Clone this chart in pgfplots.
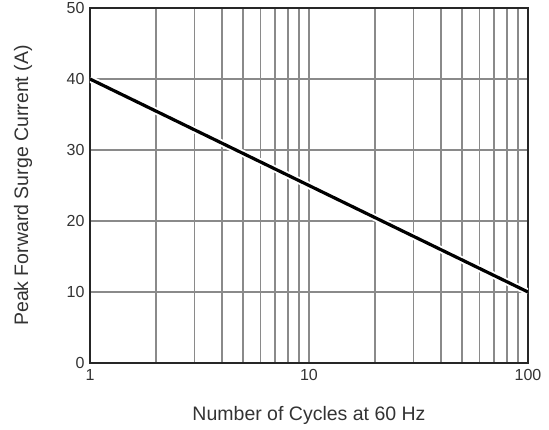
\documentclass[border=0pt]{standalone}
\usepackage{pgfplots}
\pgfplotsset{compat=1.18}
\usepackage{fontspec}
\setmainfont{Liberation Sans}
\definecolor{txt}{HTML}{333333}
\definecolor{gridc}{HTML}{8A8A8A}
\begin{document}
\begin{tikzpicture}[x=1pt,y=1pt]
\path[use as bounding box] (-90,-66) rectangle (459,363);
\begin{axis}[
  at={(0,0)}, anchor=south west,
  scale only axis, width=438pt, height=355pt,
  xmode=log, xmin=1, xmax=100, ymin=0, ymax=50,
  log basis x=10,
  xtick={1,10,100}, xticklabels={1,10,100},
  ytick={0,10,20,30,40,50},
  minor xtick={2,3,4,5,6,7,8,9,20,30,40,50,60,70,80,90},
  grid=both,
  major grid style={gridc, line width=1.5pt},
  minor grid style={gridc, line width=1.5pt},
  axis line style={line width=1.8pt, black!85},
  tick style={draw=none},
  ticklabel style={font=\fontsize{16}{16}\selectfont, text=txt},
  /pgf/number format/assume math mode=true,
  xlabel={Number of Cycles at 60 Hz},
  ylabel={Peak Forward Surge Current (A)},
  label style={font=\fontsize{19.5}{19.5}\selectfont, text=txt},
  xlabel style={at={(axis description cs:0.5,0)}, anchor=center, yshift=-52pt},
  ylabel style={at={(axis description cs:0,0.5)}, anchor=center, yshift=67pt},
  xticklabel style={yshift=-3pt},
  yticklabel style={xshift=-2pt},
]
\addplot[white, line width=7pt, forget plot] coordinates {(1,40) (10,25) (100,10)};
\addplot[black, line width=3.2pt] coordinates {(1,40) (10,25) (100,10)};
\end{axis}
\end{tikzpicture}
\end{document}
